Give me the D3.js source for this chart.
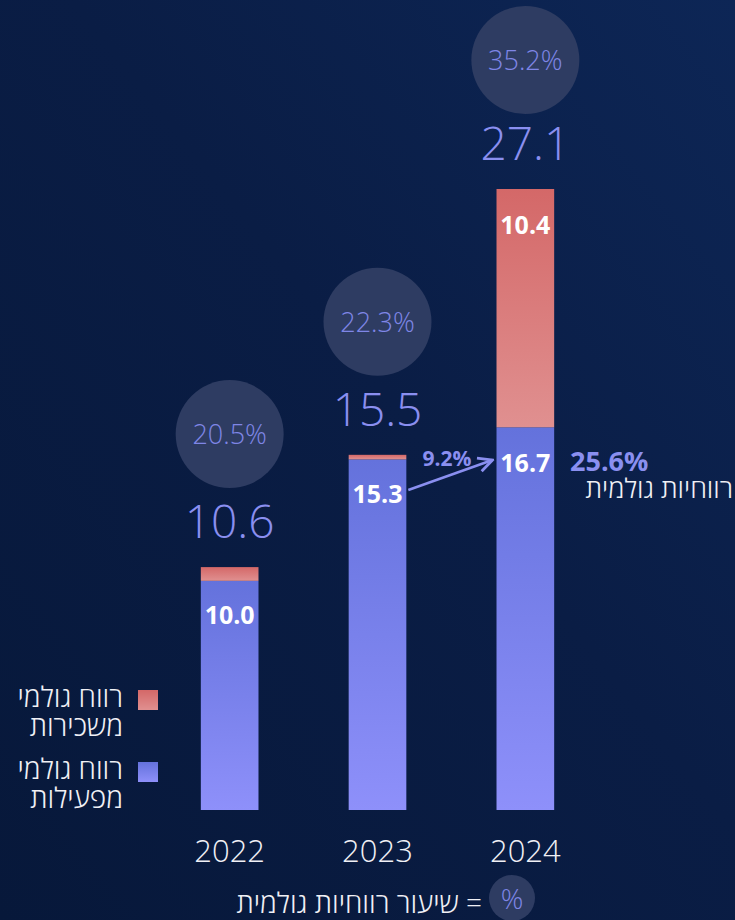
<!DOCTYPE html>
<html><head><meta charset="utf-8">
<script src="https://cdn.jsdelivr.net/npm/d3@7"></script>
<style>
html,body{margin:0;padding:0;background:#081a3c;}
svg{display:block;}
text{font-family:"Open Sans","DejaVu Sans",sans-serif;}
</style></head>
<body>
<svg id="c" width="735" height="920"></svg>
<script>
const years = ["2022","2023","2024"];
const operating = [10.0, 15.3, 16.7];
const rental = [0.6, 0.2, 10.4];
const totals = ["10.6","15.5","27.1"];
const margins = ["20.5%","22.3%","35.2%"];
const growthLabel = "9.2%";
const marginLabel = "25.6%";
const marginText = "רווחיות גולמית";
const legendLabels = [["רווח גולמי","משכירות"],["רווח גולמי","מפעילות"]];
const footnote = "= שיעור רווחיות גולמית";

const svg = d3.select("#c");
const W = 735, H = 920;
const defs = svg.append("defs");
const bg = defs.append("linearGradient").attr("id","bg").attr("x1","0").attr("y1","1").attr("x2","1").attr("y2","0");
bg.append("stop").attr("offset","0").attr("stop-color","#07183a");
bg.append("stop").attr("offset","0.55").attr("stop-color","#0a1d45");
bg.append("stop").attr("offset","1").attr("stop-color","#0d2656");
svg.append("rect").attr("width",W).attr("height",H).attr("fill","url(#bg)");

const gb = defs.append("linearGradient").attr("id","gBlue").attr("x1",0).attr("y1",0).attr("x2",0).attr("y2",1);
gb.append("stop").attr("offset",0).attr("stop-color","#6472dc");
gb.append("stop").attr("offset",1).attr("stop-color","#8e90fa");
const gr = defs.append("linearGradient").attr("id","gRed").attr("x1",0).attr("y1",0).attr("x2",0).attr("y2",1);
gr.append("stop").attr("offset",0).attr("stop-color","#d46868");
gr.append("stop").attr("offset",1).attr("stop-color","#e09090");

const x = d3.scaleBand().domain(years).range([155,600]).paddingInner(0.61).paddingOuter(0.31);
const y = d3.scaleLinear().domain([0,27.1]).range([810,189]);
const bw = x.bandwidth();
const cx = d => x(d)+bw/2;

const data = years.map((yr,i)=>({yr, op:operating[i], re:rental[i], tot:operating[i]+rental[i], totLabel:totals[i], m:margins[i]}));

const g = svg.append("g");
g.selectAll(".op").data(data).join("rect")
  .attr("x",d=>x(d.yr)).attr("width",bw)
  .attr("y",d=>y(d.op)).attr("height",d=>y(0)-y(d.op)).attr("fill","url(#gBlue)");
g.selectAll(".re").data(data).join("rect")
  .attr("x",d=>x(d.yr)).attr("width",bw)
  .attr("y",d=>y(d.tot)).attr("height",d=>y(d.op)-y(d.tot)).attr("fill","url(#gRed)");

// inside labels
g.selectAll(".opl").data(data).join("text")
  .attr("x",d=>cx(d.yr)).attr("y",(d,i)=> i===0 ? y(d.op)+43 : i===1 ? y(d.op)+44 : y(d.op)+45)
  .attr("text-anchor","middle").attr("fill","#fff").attr("font-weight",700).attr("font-size",25)
  .text(d=>d.op.toFixed(1));
g.append("text").attr("x",cx("2024")).attr("y",y(data[2].tot)+45)
  .attr("text-anchor","middle").attr("fill","#fff").attr("font-weight",700).attr("font-size",25)
  .text(rental[2].toFixed(1));

// totals
g.selectAll(".tot").data(data).join("text")
  .attr("x",d=>cx(d.yr)).attr("y",d=>y(d.tot)-29)
  .attr("text-anchor","middle").attr("fill","#8a8ff0").attr("font-weight",300).attr("font-size",46)
  .text(d=>d.totLabel);

// circles
g.selectAll(".circ").data(data).join("circle")
  .attr("cx",d=>cx(d.yr)).attr("cy",(d,i)=>y(d.tot)-(i===2?129:133)).attr("r",54)
  .attr("fill","#2e3c62");
g.selectAll(".mt").data(data).join("text")
  .attr("x",d=>cx(d.yr)).attr("y",(d,i)=>y(d.tot)-(i===2?129:133)+10)
  .attr("text-anchor","middle").attr("fill","#7f86e6").attr("font-weight",300).attr("font-size",27)
  .text(d=>d.m);

// years
g.selectAll(".yr").data(data).join("text")
  .attr("x",d=>cx(d.yr)).attr("y",862)
  .attr("text-anchor","middle").attr("fill","#f0f0f5").attr("font-weight",300).attr("font-size",31)
  .text(d=>d.yr);

// arrow annotation
defs.append("marker").attr("id","ah").attr("viewBox","0 0 10 10").attr("refX",9).attr("refY",5)
  .attr("markerWidth",7).attr("markerHeight",7).attr("orient","auto")
  .append("path").attr("d","M1,1 L9,5 L1,9").attr("fill","none").attr("stroke","#8a8ff0").attr("stroke-width",1.6);
g.append("line").attr("x1",x("2023")+bw+2).attr("y1",490).attr("x2",x("2024")-4).attr("y2",460)
  .attr("stroke","#8a8ff0").attr("stroke-width",2.5).attr("marker-end","url(#ah)");
g.append("text").attr("x",447).attr("y",466).attr("text-anchor","middle").attr("fill","#8a8ff0")
  .attr("font-weight",700).attr("font-size",21).text(growthLabel);
g.append("text").attr("x",570).attr("y",471).attr("fill","#8a8ff0").attr("font-weight",700).attr("font-size",27).text(marginLabel);
g.append("text").attr("x",733).attr("y",498).attr("text-anchor","start").attr("fill","#f0f0f5").attr("font-weight",300).attr("font-size",27).attr("direction","rtl").text(marginText);

// legend
const legColors = ["url(#gRed)","url(#gBlue)"];
const legY = [690, 762];
legendLabels.forEach((lines,i)=>{
  g.append("rect").attr("x",138).attr("y",legY[i]).attr("width",20).attr("height",20).attr("fill",legColors[i]);
  lines.forEach((t,j)=>{
    g.append("text").attr("x",123).attr("y",legY[i]+17+j*29).attr("text-anchor","start").attr("direction","rtl")
      .attr("fill","#f0f0f5").attr("font-weight",300).attr("font-size",28).text(t);
  });
});

// footnote
g.append("circle").attr("cx",512).attr("cy",898).attr("r",23).attr("fill","#2e3c62");
g.append("text").attr("x",512).attr("y",909).attr("text-anchor","middle").attr("fill","#7f86e6").attr("font-weight",300).attr("font-size",28).text("%");
g.append("text").attr("x",482).attr("y",913).attr("text-anchor","start").attr("direction","rtl").attr("fill","#f0f0f5").attr("font-weight",300).attr("font-size",28).text(footnote);
</script>
</body></html>
